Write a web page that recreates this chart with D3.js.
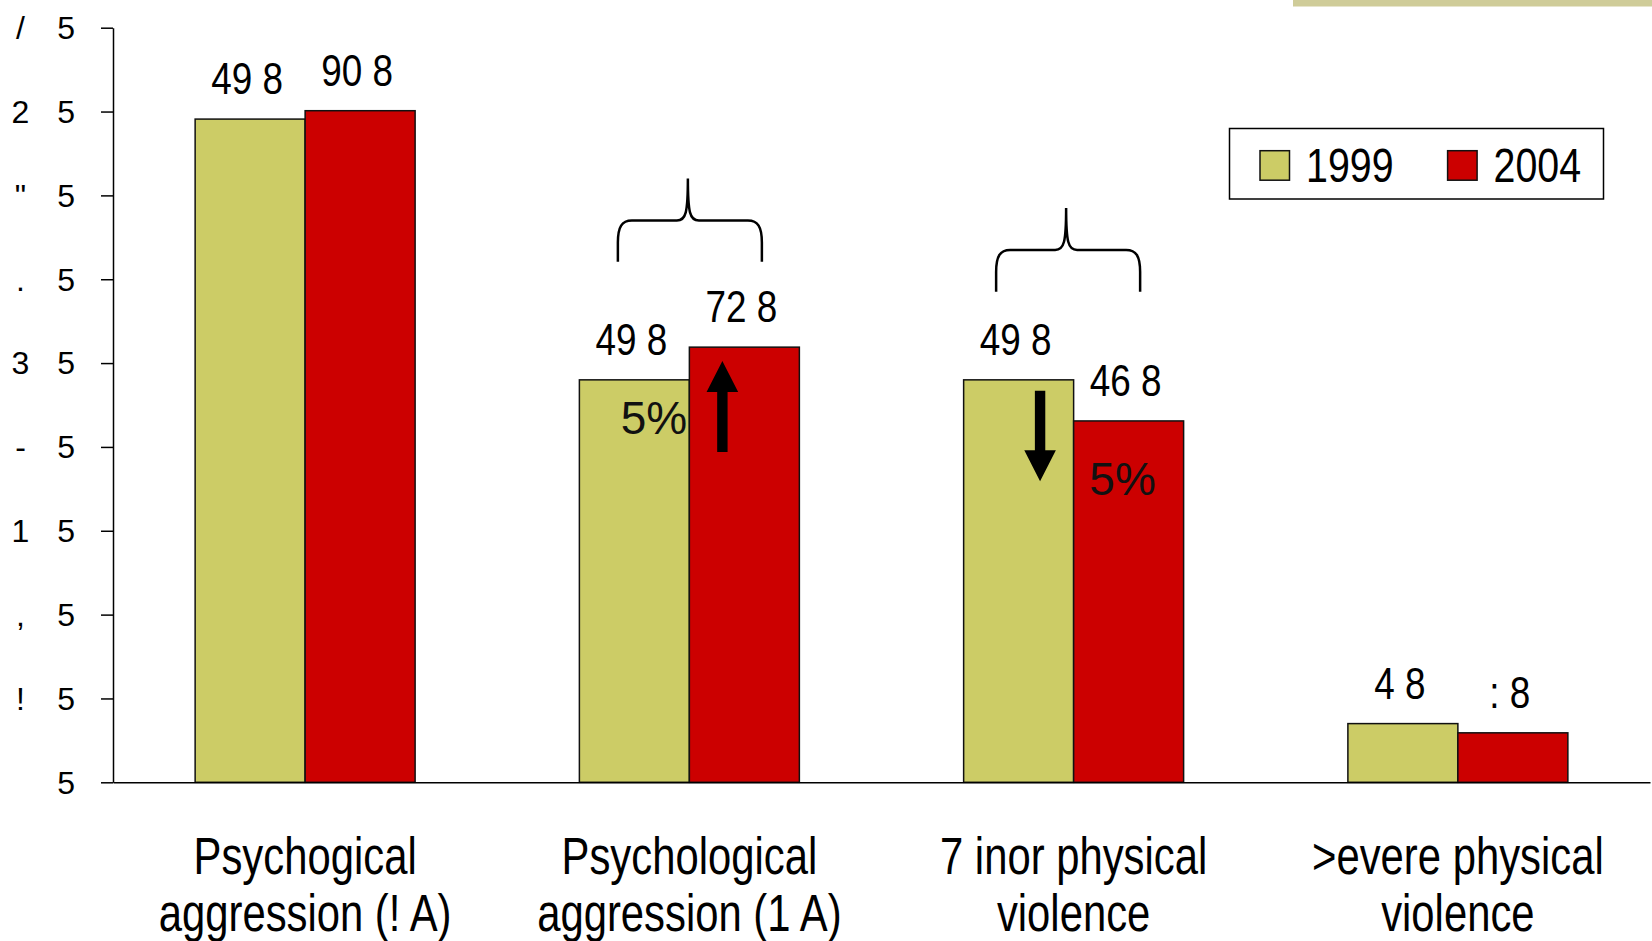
<!DOCTYPE html>
<html>
<head>
<meta charset="utf-8">
<title>1999 vs 2004 bar chart</title>
<script src="https://cdn.jsdelivr.net/npm/d3@7"></script>
<style>
  body { margin: 0; background: #fff; }
  svg { display: block; }
  text { font-family: "Liberation Sans", Arial, sans-serif; fill: #000; }
</style>
</head>
<body>
<svg id="chart"></svg>
<script>
// data (labels kept as they appear)
const categories = [
  ["Psychogical", "aggression (! A)"],
  ["Psychological", "aggression (1 A)"],
  ["7 inor physical", "violence"],
  [">evere physical", "violence"]
];
const series = ["1999", "2004"];
const values1999 = [79.1, 48.0, 48.0, 7.0];
const values2004 = [80.1, 51.9, 43.1, 5.9];
const labels1999 = ["49 8", "49 8", "49 8", "4 8"];
const labels2004 = ["90 8", "72 8", "46 8", ": 8"];
const yTicks = [0, 10, 20, 30, 40, 50, 60, 70, 80, 90];
const yTickLabels = ["5", "! 5", ", 5", "1 5", "- 5", "3 5", ". 5", "\" 5", "2 5", "/ 5"];

// annotations: arrows and "5%" notes, in data units
const arrows = [
  {group: 1, s: "2004", frac: 0.30, from: 39.4, to: 50.25},
  {group: 2, s: "1999", frac: 0.695, from: 46.7, to: 35.9}
];
const notes = [
  {group: 1, s: "1999", frac: 0.678, v: 41.5, text: "5%"},
  {group: 2, s: "2004", frac: 0.445, v: 34.3, text: "5%"}
];
const braces = [
  {group: 1, shift: -1.5, top: 72.0, bottom: 62.1},
  {group: 2, shift: -7.5, top: 68.5, bottom: 58.5}
];

const W = 1652, H = 941;
const svg = d3.select("#chart").attr("width", W).attr("height", H);

const y = d3.scaleLinear([0, 90], [782.3, 27.7]);
const x0 = d3.scaleBand(d3.range(categories.length), [113, 1650])
  .paddingInner(0.4275).paddingOuter(0.21375);
const x1 = d3.scaleBand(series, [0, x0.bandwidth()]);
const color = d3.scaleOrdinal(series, ["#cccc66", "#cc0000"]);

const rows = categories.map((c, i) => ({i, v: {"1999": values1999[i], "2004": values2004[i]},
  l: {"1999": labels1999[i], "2004": labels2004[i]}}));

// narrow text: Arial-ish squeezed horizontally
function narrow(sel, x, yy, txt, size, anchor) {
  sel.append("g")
    .attr("transform", `translate(${x},${yy}) scale(0.82,1)`)
    .append("text")
    .attr("text-anchor", anchor || "middle")
    .style("font-size", size + "px")
    .text(txt);
}

// top right strip
svg.append("rect").attr("x", 1293).attr("y", 0).attr("width", 359).attr("height", 6.5)
  .attr("fill", "#cfcc99");

// y axis
const yAx = svg.append("g").attr("transform", "translate(113,0)")
  .call(d3.axisLeft(y).tickValues(yTicks).tickSize(12).tickSizeOuter(0).tickFormat(""));
yAx.selectAll("path, line").attr("stroke", "#000").attr("stroke-width", 1.5);
yAx.selectAll(".tick").each(function(d, i) {
  const parts = yTickLabels[i].split(" ");
  const g = d3.select(this);
  if (parts.length > 1) {
    g.append("text").attr("x", 20.5 - 113).attr("dy", "0.34em")
      .attr("text-anchor", "middle").style("font-size", "32px").text(parts[0]);
  }
  g.append("text").attr("x", 75 - 113).attr("dy", "0.34em")
    .attr("text-anchor", "end").style("font-size", "32px").text(parts[parts.length - 1]);
});

// bars
const grp = svg.append("g").selectAll("g").data(rows).join("g")
  .attr("transform", d => `translate(${x0(d.i)},0)`);
grp.selectAll("rect").data(d => series.map(s => ({s, v: d.v[s]}))).join("rect")
  .attr("x", d => x1(d.s))
  .attr("y", d => y(d.v))
  .attr("width", x1.bandwidth())
  .attr("height", d => y(0) - y(d.v))
  .attr("fill", d => color(d.s))
  .attr("stroke", "#111").attr("stroke-width", 1.5);

// value labels
rows.forEach(r => {
  series.forEach(s => {
    narrow(svg, x0(r.i) + x1(s) + x1.bandwidth() / 2 - 3, y(r.v[s]) - 25, r.l[s], 45);
  });
});

// x axis line
const xAx = svg.append("g").attr("transform", `translate(0,${y(0)})`)
  .call(d3.axisBottom(x0).tickSize(0).tickSizeOuter(0).tickFormat(""));
xAx.select(".domain").attr("stroke", "#000").attr("stroke-width", 1.5);

// category labels
rows.forEach(r => {
  const cx = x0(r.i) + x0.bandwidth() / 2;
  categories[r.i].forEach((line, k) => narrow(svg, cx, 874 + k * 56.5, line, 51));
});

// braces
braces.forEach(b => {
  const t = x0(b.group) + x0.bandwidth() / 2 + b.shift;
  const L = t - 70, R = t + 74;
  const yt = y(b.top), yb = y(b.bottom), yh = yt + 42;
  const p = d3.path();
  p.moveTo(L, yb); p.lineTo(L, yh + 22);
  p.bezierCurveTo(L, yh + 6, L + 4, yh, L + 14, yh);
  p.lineTo(t - 11, yh);
  p.bezierCurveTo(t - 2, yh, t, yh - 8, t, yt);
  p.bezierCurveTo(t, yh - 8, t + 2, yh, t + 11, yh);
  p.lineTo(R - 14, yh);
  p.bezierCurveTo(R - 4, yh, R, yh + 6, R, yh + 22);
  p.lineTo(R, yb);
  svg.append("path").attr("d", p.toString()).attr("fill", "none")
    .attr("stroke", "#000").attr("stroke-width", 2.5);
});

// arrows
arrows.forEach(a => {
  const cx = x0(a.group) + x1(a.s) + a.frac * x1.bandwidth();
  const y1 = y(a.from), y2 = y(a.to);
  const dir = y2 < y1 ? -1 : 1, head = 31, hw = 15.8, sw = 5.2;
  const yb = y2 - dir * head;
  svg.append("path")
    .attr("d", `M${cx - sw},${y1} L${cx - sw},${yb} L${cx - hw},${yb} L${cx},${y2} L${cx + hw},${yb} L${cx + sw},${yb} L${cx + sw},${y1} Z`)
    .attr("fill", "#000");
});

// 5% notes
notes.forEach(n => {
  svg.append("text")
    .attr("x", x0(n.group) + x1(n.s) + n.frac * x1.bandwidth())
    .attr("y", y(n.v))
    .attr("text-anchor", "middle")
    .style("font-size", "46px")
    .style("fill", "#111")
    .text(n.text);
});

// legend
const lg = svg.append("g");
lg.append("rect").attr("x", 1229.5).attr("y", 128.5).attr("width", 374).attr("height", 70.5)
  .attr("fill", "#fff").attr("stroke", "#000").attr("stroke-width", 1.5);
const lx = [1260, 1447.6];
series.forEach((s, i) => {
  lg.append("rect").attr("x", lx[i]).attr("y", 150.7).attr("width", 29.5).attr("height", 29.5)
    .attr("fill", color(s)).attr("stroke", "#111").attr("stroke-width", 1.5);
  narrow(lg, lx[i] + 46, 182, s, 48, "start");
});
</script>
</body>
</html>
